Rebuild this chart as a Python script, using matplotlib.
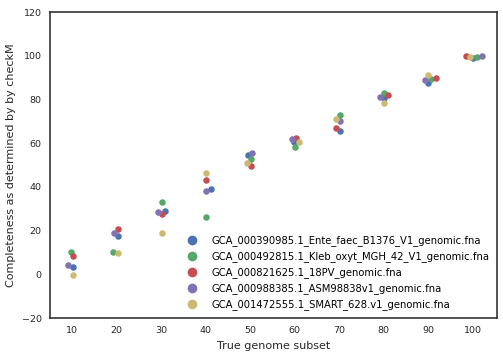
import matplotlib
matplotlib.use("Agg")
import matplotlib.pyplot as plt
from matplotlib.lines import Line2D

labels = [
    "GCA_000390985.1_Ente_faec_B1376_V1_genomic.fna",
    "GCA_000492815.1_Kleb_oxyt_MGH_42_V1_genomic.fna",
    "GCA_000821625.1_18PV_genomic.fna",
    "GCA_000988385.1_ASM98838v1_genomic.fna",
    "GCA_001472555.1_SMART_628.v1_genomic.fna",
]
colors = ["#4C72B0", "#55A868", "#C44E52", "#8172B2", "#CCB974"]

subsets = [10, 20, 30, 40, 50, 60, 70, 80, 90, 100]

# x positions (subset + swarm offset as seen) and completeness values
blue_x = [10.2, 20.27, 30.8, 41.2, 49.45, 59.95, 70.15, 80.05, 90.0, 100.0]
blue_y = [3.2, 17.7, 29.1, 38.9, 54.4, 60.4, 65.4, 80.6, 87.6, 98.8]
green_x = [9.8, 19.2, 30.25, 40.15, 50.2, 60.1, 70.15, 80.05, 90.7, 101.05]
green_y = [10.3, 10.3, 33.2, 26.1, 52.7, 58.1, 72.7, 82.9, 89.5, 99.5]
red_x = [10.2, 20.27, 30.25, 40.15, 50.2, 60.4, 69.4, 81.0, 91.7, 98.5]
red_y = [8.4, 20.6, 27.4, 43.1, 49.7, 62.4, 66.9, 81.9, 89.9, 99.9]
purple_x = [9.1, 19.4, 29.2, 40.15, 50.35, 59.35, 70.15, 79.1, 89.2, 102.1]
purple_y = [4.1, 18.8, 28.4, 38.0, 55.6, 61.9, 70.3, 81.2, 88.9, 99.9]
yellow_x = [10.2, 20.27, 30.25, 40.15, 49.4, 61.0, 69.3, 80.05, 90.0, 99.5]
yellow_y = [-0.2, 9.6, 18.8, 46.2, 51.1, 60.4, 71.0, 78.2, 91.3, 99.5]

xs = [blue_x, green_x, red_x, purple_x, yellow_x]
ys = [blue_y, green_y, red_y, purple_y, yellow_y]

plt.rcParams['font.family'] = ['DejaVu Sans']
fig = plt.figure(figsize=(5.03, 3.58), dpi=100)
ax = fig.add_axes([50/503, 40/358, 447/503, 306/358])

for x, y, c in zip(xs, ys, colors):
    ax.scatter(x, y, s=22, color=c, linewidths=0, zorder=3)

ax.set_xlim(5, 105.5)
ax.set_ylim(-20, 120)
ax.set_xticks(subsets)
ax.set_yticks(range(-20, 121, 20))
ax.tick_params(length=0, labelsize=6.8, colors="#262626", pad=6)
for s in ax.spines.values():
    s.set_color("#262626")
    s.set_linewidth(1.1)
ax.set_xlabel("True genome subset", fontsize=8, color="#262626", labelpad=4)
ax.set_ylabel("Completeness as determined by by checkM", fontsize=8, color="#262626", labelpad=4)

handles = [Line2D([], [], marker="o", linestyle="", markersize=7, color=c, markeredgewidth=0) for c in colors]
ax.legend(handles, labels, loc="lower right", frameon=False, fontsize=7.2,
          handletextpad=0.9, labelspacing=0.5, borderaxespad=0.4)

fig.savefig("out.png", dpi=100)
